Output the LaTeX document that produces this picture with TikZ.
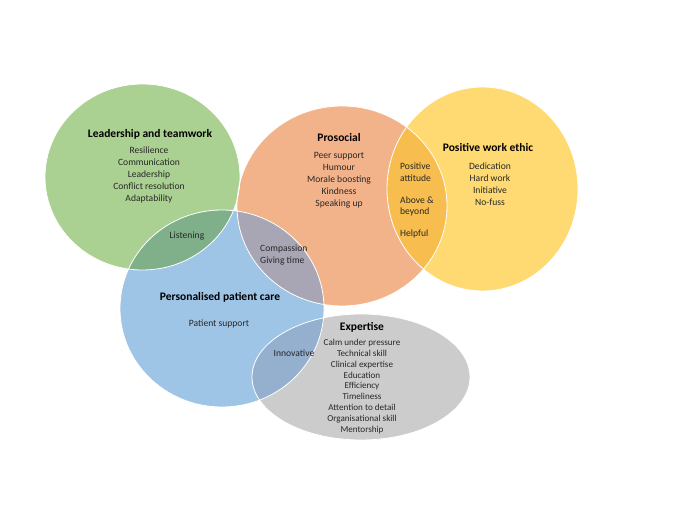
\documentclass[tikz,border=0pt]{standalone}
\usepackage{fontspec}
\setmainfont{Carlito}
\definecolor{cgreen}{RGB}{170,209,146}
\definecolor{corange}{RGB}{243,179,138}
\definecolor{cyellow}{RGB}{255,218,115}
\definecolor{cblue}{RGB}{158,196,230}
\definecolor{cgray}{RGB}{204,204,204}
\definecolor{xgb}{RGB}{128,176,138}
\definecolor{xob}{RGB}{168,166,180}
\definecolor{xoy}{RGB}{247,189,78}
\definecolor{xbg}{RGB}{148,176,206}
\definecolor{txt}{RGB}{40,40,40}
\tikzset{
  x=1pt, y=-1pt,
  ttl/.style={font=\fontsize{11.5}{13}\selectfont\bfseries, text=black, inner sep=0pt},
  itm/.style={font=\fontsize{9.6}{12.1}\selectfont, text=txt, inner sep=0pt, align=center},
  itmx/.style={font=\fontsize{9.1}{10.85}\selectfont, text=txt, inner sep=0pt, align=center},
  itml/.style={font=\fontsize{9.6}{11.5}\selectfont, text=txt, inner sep=0pt, align=left, anchor=west},
  rim/.style={draw=white, line width=0.8pt}
}
\newcommand{\greenE}{(142.5,177) ellipse [x radius=97.5pt, y radius=93pt]}
\newcommand{\orangeE}{(342,206) ellipse [x radius=105pt, y radius=100pt]}
\newcommand{\yellowE}{(482.5,189) ellipse [x radius=95.5pt, y radius=102pt]}
\newcommand{\blueE}{(222,308.5) ellipse [x radius=102pt, y radius=98.5pt]}
\newcommand{\grayE}{(361,377) ellipse [x radius=109pt, y radius=63pt]}
\begin{document}
\begin{tikzpicture}
\useasboundingbox (0,0) rectangle (680,510);
\fill[white] (0,0) rectangle (680,510);
% base fills
\fill[cgray] \grayE;
\fill[cblue] \blueE;
\fill[cyellow] \yellowE;
\fill[corange] \orangeE;
\fill[cgreen] \greenE;
% overlaps
\begin{scope}\clip \greenE; \fill[xgb] \blueE; \end{scope}
\begin{scope}\clip \orangeE; \fill[xob] \blueE; \end{scope}
\begin{scope}\clip \orangeE; \fill[xoy] \yellowE; \end{scope}
\begin{scope}\clip \blueE; \fill[xbg] \grayE; \end{scope}
% white rims
\draw[rim] \grayE;
\draw[rim] \blueE;
\draw[rim] \yellowE;
\draw[rim] \orangeE;
\draw[rim] \greenE;
% texts
\node[ttl] (lttitle) at (150,134) {Leadership and teamwork};
\node[itm] (ltitems) at (149,175) {Resilience\\Communication\\Leadership\\Conflict resolution\\Adaptability};
\node[itm] (listen) at (187,236) {Listening};
\node[ttl] (protitle) at (339,138) {Prosocial};
\node[itm] (proitems) at (339,180) {Peer support\\Humour\\Morale boosting\\Kindness\\Speaking up};
\node[itml] (comp) at (260,255) {Compassion\\Giving time};
\node[itml] (posatt) at (400,172) {Positive\\attitude};
\node[itml] (above) at (400,206.5) {Above \&\\beyond};
\node[itml] (helpful) at (400,234) {Helpful};
\node[ttl] (pwetitle) at (488,148) {Positive work ethic};
\node[itm] (pweitems) at (490,184) {Dedication\\Hard work\\Initiative\\No-fuss};
\node[ttl] (ppctitle) at (220,297) {Personalised patient care};
\node[itm] (psupport) at (219,324) {Patient support};
\node[itm] (innov) at (294,353) {Innovative};
\node[ttl] (exptitle) at (362,327) {Expertise};
\node[itmx] (expitems) at (362,386.5) {Calm under pressure\\Technical skill\\Clinical expertise\\Education\\Efficiency\\Timeliness\\Attention to detail\\Organisational skill\\Mentorship};
\end{tikzpicture}
\end{document}
